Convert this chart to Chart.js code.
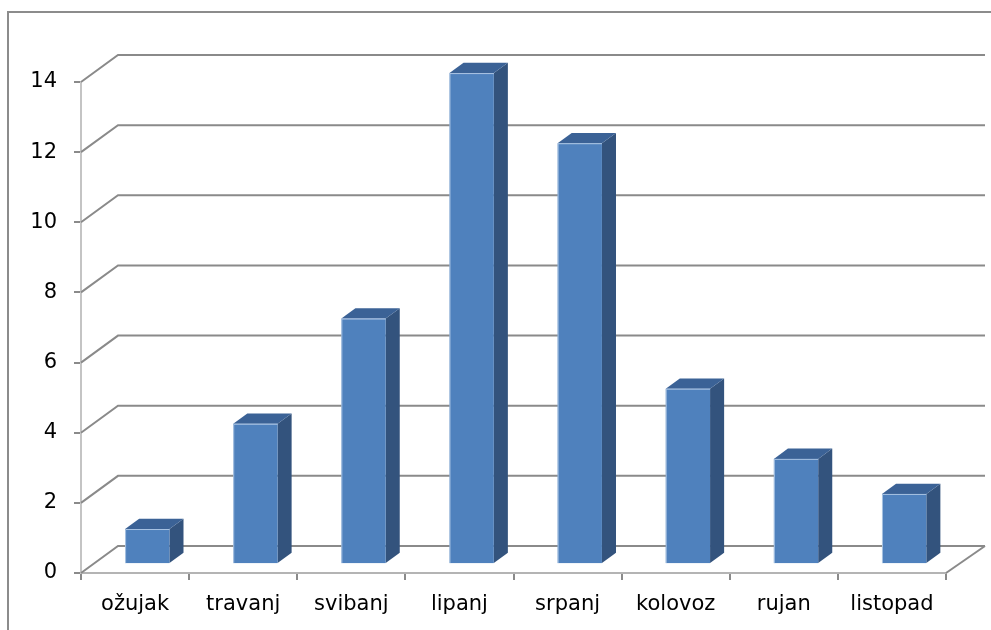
<!DOCTYPE html>
<html>
<head>
<meta charset="utf-8">
<script src="https://cdn.jsdelivr.net/npm/chart.js@4.4.1/dist/chart.umd.min.js"></script>
<style>
  html, body { margin: 0; padding: 0; background: #fff; }
  #wrap { position: relative; width: 991px; height: 630px; }
</style>
</head>
<body>
<div id="wrap"><canvas id="js-chart" width="991" height="630"></canvas></div>
<script>
// data
var months = ['ožujak', 'travanj', 'svibanj', 'lipanj', 'srpanj', 'kolovoz', 'rujan', 'listopad'];
var counts = [1, 4, 7, 14, 12, 5, 3, 2];
var yTicks = [0, 2, 4, 6, 8, 10, 12, 14];

// depth of the 3d box (back wall offset) and where bars sit inside it
var DX = 37, DY = -27;
var BAR_FRONT = 0.33, BAR_DEPTH = 0.38;

var box3d = {
  id: 'box3d',
  beforeDraw: function(chart) {
    var c = chart.ctx;
    // outer frame, only top and left edges fall inside the picture
    c.save();
    c.strokeStyle = '#8c8c8c';
    c.lineWidth = 2;
    c.beginPath();
    c.moveTo(8, 640);
    c.lineTo(8, 12);
    c.lineTo(995, 12);
    c.stroke();
    c.restore();
  },
  beforeDatasetsDraw: function(chart) {
    var c = chart.ctx, a = chart.chartArea;
    var y = chart.scales.y;
    c.save();
    c.strokeStyle = '#8a8a8a';
    c.lineWidth = 2;
    yTicks.forEach(function(v) {
      var py = y.getPixelForValue(v);
      c.beginPath();
      c.moveTo(a.left, py);
      c.lineTo(a.left + DX, py + DY);
      c.lineTo(a.right + DX + 2, py + DY);
      c.stroke();
    });
    // right edge of the floor
    c.beginPath();
    c.moveTo(a.right, a.bottom);
    c.lineTo(a.right + DX + 2, a.bottom + DY);
    c.stroke();
    c.restore();
  },
  afterDatasetsDraw: function(chart) {
    var c = chart.ctx;
    var meta = chart.getDatasetMeta(0);
    var ox = DX * BAR_FRONT, oy = DY * BAR_FRONT;
    var sx = DX * BAR_DEPTH, sy = DY * BAR_DEPTH;
    c.save();
    meta.data.forEach(function(bar) {
      var p = bar.getProps(['x', 'y', 'base', 'width'], true);
      var l = p.x - p.width / 2 + ox, r = p.x + p.width / 2 + ox;
      var t = p.y + oy, b = p.base + oy;
      // side
      c.fillStyle = '#33537d';
      c.beginPath();
      c.moveTo(r, t); c.lineTo(r + sx, t + sy); c.lineTo(r + sx, b + sy); c.lineTo(r, b);
      c.closePath(); c.fill();
      // top
      c.fillStyle = '#3b6296';
      c.beginPath();
      c.moveTo(l, t); c.lineTo(l + sx, t + sy); c.lineTo(r + sx, t + sy); c.lineTo(r, t);
      c.closePath(); c.fill();
      // front
      c.fillStyle = '#4f81bd';
      c.fillRect(l, t, r - l, b - t);
      c.strokeStyle = 'rgba(190,210,235,0.8)';
      c.lineWidth = 1;
      c.beginPath();
      c.moveTo(l + 0.5, b); c.lineTo(l + 0.5, t + 0.5); c.lineTo(r, t + 0.5);
      c.stroke();
    });
    c.restore();
  }
};

var ctx = document.getElementById('js-chart');
var myChart = new Chart(ctx, {
  type: 'bar',
  data: {
    labels: months,
    datasets: [{
      data: counts,
      backgroundColor: 'rgba(0,0,0,0)',
      borderWidth: 0,
      categoryPercentage: 1,
      barPercentage: 0.41
    }]
  },
  options: {
    responsive: false,
    animation: false,
    layout: { padding: { left: 0, right: 45, top: 82, bottom: 0 } },
    plugins: { legend: { display: false }, tooltip: { enabled: false } },
    scales: {
      x: {
        grid: { offset: true, drawOnChartArea: false, drawTicks: true, tickLength: 7, color: '#8a8a8a', lineWidth: 2 },
        border: { display: true, color: '#b4b4b4', width: 2 },
        ticks: { color: '#000', padding: 12, font: { family: 'DejaVu Sans', size: 21 } },
        afterFit: function(s) { s.height = 630 - 573; }
      },
      y: {
        min: 0,
        max: 14,
        ticks: { stepSize: 2, color: '#000', padding: 17, font: { family: 'DejaVu Sans', size: 21 } },
        grid: { drawOnChartArea: false, drawTicks: true, tickLength: 7, color: '#8a8a8a', lineWidth: 2 },
        border: { display: true, color: '#c4c4c4', width: 2 },
        afterFit: function(s) { s.width = 81; }
      }
    }
  },
  plugins: [box3d]
});
</script>
</body>
</html>
